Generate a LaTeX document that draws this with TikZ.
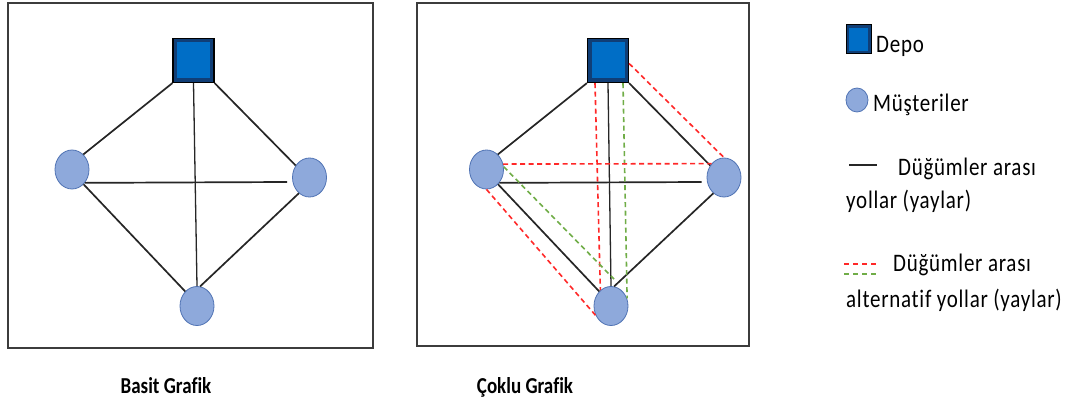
\documentclass[tikz,border=0pt]{standalone}
\usepackage{fontspec}
\usepackage{graphicx}
\setmainfont{Carlito}[Ligatures=NoCommon]
\newfontfamily\legendfont{Carlito}[LetterSpace=3.5,Ligatures=NoCommon]
\usetikzlibrary{shapes.geometric}
\definecolor{sqfill}{RGB}{16,62,118}
\definecolor{sqin}{RGB}{0,110,198}
\definecolor{cfill}{RGB}{142,169,219}
\definecolor{cdraw}{RGB}{80,115,180}
\definecolor{ered}{RGB}{255,40,40}
\definecolor{egreen}{RGB}{112,173,71}
\definecolor{framecol}{RGB}{60,60,60}
\newcommand{\vst}[1]{\scalebox{1}[1.2]{#1}}
\begin{document}
\begin{tikzpicture}[x=1pt,y=-1pt,
  depot/.style={rectangle,draw=black,line width=1.2pt,fill=sqfill,inner sep=0pt,
    path picture={\fill[sqin] ([shift={(#1,-#1)}]path picture bounding box.north west) rectangle ([shift={(-#1,#1)}]path picture bounding box.south east);}},
  cust/.style={ellipse,draw=cdraw,line width=0.8pt,fill=cfill,minimum width=34pt,minimum height=39pt,inner sep=0pt},
  edge/.style={draw=black!85,line width=1.7pt},
  alt/.style={line width=1.6pt,dash pattern=on 5pt off 3.5pt},
  lbl/.style={font=\legendfont\fontsize{21}{25}\selectfont,anchor=base west,inner sep=0pt},
  ttl/.style={font=\bfseries\fontsize{19}{23}\selectfont,anchor=base,inner sep=0pt}]
\useasboundingbox (0,0) rectangle (1066,404);
\fill[white] (0,0) rectangle (1066,404);
\draw[framecol,line width=1.8pt] (8,3) rectangle (373,348);
\draw[framecol,line width=1.8pt] (417,3) rectangle (749,346);
% left graph
\node[depot=4pt,minimum width=41pt,minimum height=44pt] (d1) at (193.5,60.5) {};
\node[cust] (l1) at (72,169.5) {};
\node[cust] (r1) at (309.5,177.5) {};
\node[cust] (b1) at (197,306) {};
\draw[edge] (d1.south west) -- (l1.53);
\draw[edge] (d1.south east) -- (r1.139);
\draw[edge,line width=1.3pt] (d1.south) -- (b1.north);
\draw[edge] (l1.-46) -- ([shift={(-5pt,-4.5pt)}]r1.west);
\draw[edge] (l1.-52) -- (b1.129);
\draw[edge] (r1.-124) -- (b1.81);
% right graph
\node[depot=4pt,minimum width=41pt,minimum height=44pt] (d2) at (608,60.5) {};
\node[cust] (l2) at (486.5,169.5) {};
\node[cust] (r2) at (724,177.5) {};
\node[cust] (b2) at (611,306) {};
\draw[edge] (d2.south west) -- (l2.53);
\draw[edge] (d2.south east) -- (r2.139);
\draw[edge,line width=1.3pt] (d2.south) -- (b2.north);
\draw[edge] (l2.-46) -- ([shift={(-5pt,-4.5pt)}]r2.west);
\draw[edge] (l2.-52) -- (b2.129);
\draw[edge] (r2.-124) -- (b2.81);
\draw[alt,ered] ([yshift=-3pt]d2.east) -- (r2.north);
\draw[alt,ered] ([xshift=-13pt]d2.south) -- (b2.124);
\draw[alt,egreen] ([xshift=15pt]d2.south) -- (b2.25);
\draw[alt,ered] (l2.18) -- (r2.132);
\draw[alt,egreen] (l2.9) -- ([shift={(3pt,7pt)}]b2.north);
\draw[alt,ered] (l2.south) -- (b2.212);
% legend
\node[depot=3pt,minimum width=25pt,minimum height=29pt,line width=1pt] (ld) at (858.5,39.5) {};
\node[cust,minimum width=22pt,minimum height=24pt] (lc) at (857,100) {};
\node[lbl] (tdepo) at (876,53) {\vst{Depo}};
\node[lbl] (tmus) at (873,111) {\vst{Müşteriler}};
\coordinate (k1) at (849,165);
\coordinate (k2) at (877,165);
\draw[edge,line width=1.3pt] (k1) -- (k2);
\node[lbl] (t1) at (898,175) {\vst{Düğümler arası}};
\node[lbl] (t2) at (846,208) {\vst{yollar (yaylar)}};
\coordinate (k3) at (844,264);
\coordinate (k4) at (877,264);
\coordinate (k5) at (844,274);
\coordinate (k6) at (877,274);
\draw[ered,line width=1.2pt,dash pattern=on 5pt off 4pt] (k3) -- (k4);
\draw[egreen,line width=1.2pt,dash pattern=on 5pt off 4pt] (k5) -- (k6);
\node[lbl] (t3) at (893,271) {\vst{Düğümler arası}};
\node[lbl] (t4) at (846,307) {\vst{alternatif yollar (yaylar)}};
% titles
\node[ttl] (tt1) at (166,393) {\vst{Basit Grafik}};
\node[ttl] (tt2) at (525,393) {\vst{Çoklu Grafik}};
\end{tikzpicture}
\end{document}
